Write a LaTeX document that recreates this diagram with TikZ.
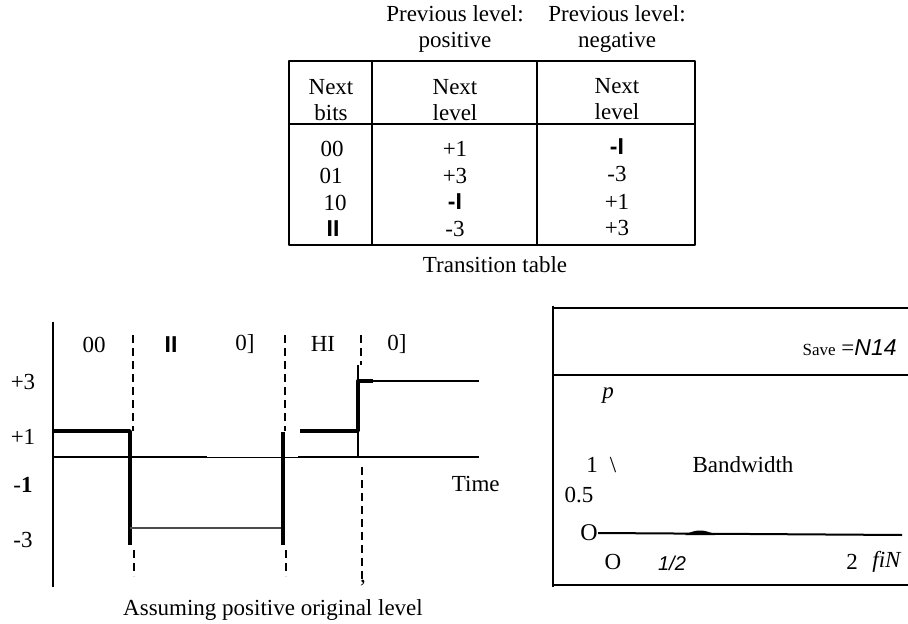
\documentclass[tikz,border=0pt]{standalone}
\usepackage{fontspec}
\setmainfont{Liberation Serif}
\setsansfont{Liberation Sans}
\begin{document}
\begin{tikzpicture}[x=0.5pt, y=-0.5pt, font=\fontsize{11.5}{13}\selectfont, line join=round,
		rule/.style={line width=1pt},
		wave/.style={line width=1.7pt},
		guide/.style={line width=0.6pt, dash pattern=on 4pt off 2.5pt},
		cell/.style={inner sep=0pt, align=center},
		blk/.style={inner sep=0pt, font=\fontsize{11.5}{13}\selectfont\sffamily\bfseries}]
				\useasboundingbox (0,0) rectangle (908,624);
				% Bảng chuyển trạng thái
				\coordinate (T1) at (289,61);
				\coordinate (T2) at (695,245);
				\draw[rule] (T1) rectangle (T2);
				\draw[rule] (372,61) -- (372,245);
				\draw[rule] (537,61) -- (537,245);
				\draw[rule] (289,124) -- (695,124);
				% Tiêu đề các cột
				\node[cell] (hpos) at (455,29) {Previous level:\\positive};
				\node[cell] (hneg) at (617,29) {Previous level:\\negative};
				\node[cell] (hbits) at (331,100) {Next\\bits};
				\node[cell] (hlvp) at (455,100) {Next\\level};
				\node[cell] (hlvn) at (617,99) {Next\\level};
				% Các dòng của bảng
				\node[cell] (b1) at (332,149) {00};
				\node[cell] (b2) at (331,176) {01};
				\node[cell] (b3) at (335,203) {10};
				\node[blk] (b4) at (333,229) {II};
				\node[cell] (p1) at (455,149) {+1};
				\node[cell] (p2) at (455,176) {+3};
				\node[blk] (p3) at (455,202) {-I};
				\node[cell] (p4) at (455,229) {-3};
				\node[blk] (n1) at (617,147) {-I};
				\node[cell] (n2) at (617,174) {-3};
				\node[cell] (n3) at (617,202) {+1};
				\node[cell] (n4) at (617,228) {+3};
				\node[cell] (tcap) at (495,265) {Transition table};
				% Trục của dạng sóng
				\coordinate (O) at (53,457);
				\draw[rule] (53,322) -- (53,587);
				\draw[rule] (O) -- (207,457);
				\draw[line width=0.5pt] (207,457) -- (298,457);
				\draw[rule] (298,457) -- (479,457);
				% Dạng sóng
				\draw[wave] (53,431) -- (130,431) -- (130,545);
				\draw[line width=0.6pt, black!70] (130,528) -- (283,528);
				\draw[wave] (283,432) -- (283,545);
				\draw[wave] (300,431) -- (358,431) -- (358,381) -- (373,381);
				\draw[rule] (373,381) -- (479,381);
				\draw[rule] (358,365) -- (358,457);
				% Các đường ranh giới
				\foreach \x in {133,285}{\draw[guide] (\x,335) -- (\x,431); \draw[guide] (\x+1,550) -- (\x+1,576);}
				\draw[guide] (361,335) -- (361,365);
				\draw[guide] (362,467) -- (362,582);
				\node[cell] (cm) at (363,583) {,};
				% Đánh nhãn mức và bit
				\node[cell] (l3) at (23,382) {+3};
				\node[cell] (l1) at (23,437) {+1};
				\node[cell] (m1) at (23,485) {-\textbf{1}};
				\node[cell] (m3) at (23,540) {-3};
				\node[cell] (s1) at (94,345) {00};
				\node[blk] (s2) at (171,345) {II};
				\node[cell] (s3) at (245,344) {0]};
				\node[cell] (s4) at (323,344) {HI};
				\node[cell] (s5) at (397,344) {0]};
				\node[cell, anchor=east] (time) at (500,484) {Time};
				\node[cell] (wcap) at (273,610) {Assuming positive original level};
				% Khung bên phải
				\draw[rule] (553,306) -- (553,587);
				\foreach \y in {308,375,585}{\draw[rule] (553,\y) -- (908,\y);}
				\node[cell, anchor=east] (save) at (897,348) {{\fontsize{8.5}{10}\selectfont Save} ={\sffamily\itshape N14}};
				\node[cell] (pp) at (608,396) {\textit{p}};
				\node[cell] (one) at (592,465) {1};
				\node[cell] (bsl) at (613,465) {\textbackslash};
				\node[cell] (bw) at (743,465) {Bandwidth};
				\node[cell] (half) at (579,495) {0.5};
				\node[cell, font=\fontsize{12}{13}\selectfont] (zy) at (589,533) {O};
				\draw[rule] (zy.east) -- (902,535);
				\fill (685,535) .. controls (695,529) and (705,529) .. (715,535) -- cycle;
				\node[cell] (zx) at (613,562) {O};
				\node[cell, font=\fontsize{10}{12}\selectfont\sffamily\itshape] (hx) at (672,563) {1/2};
				\node[cell] (two) at (852,562) {2};
				\node[cell, anchor=east] (fn) at (902,562) {\textit{fiN}};
			\end{tikzpicture}
\end{document}
